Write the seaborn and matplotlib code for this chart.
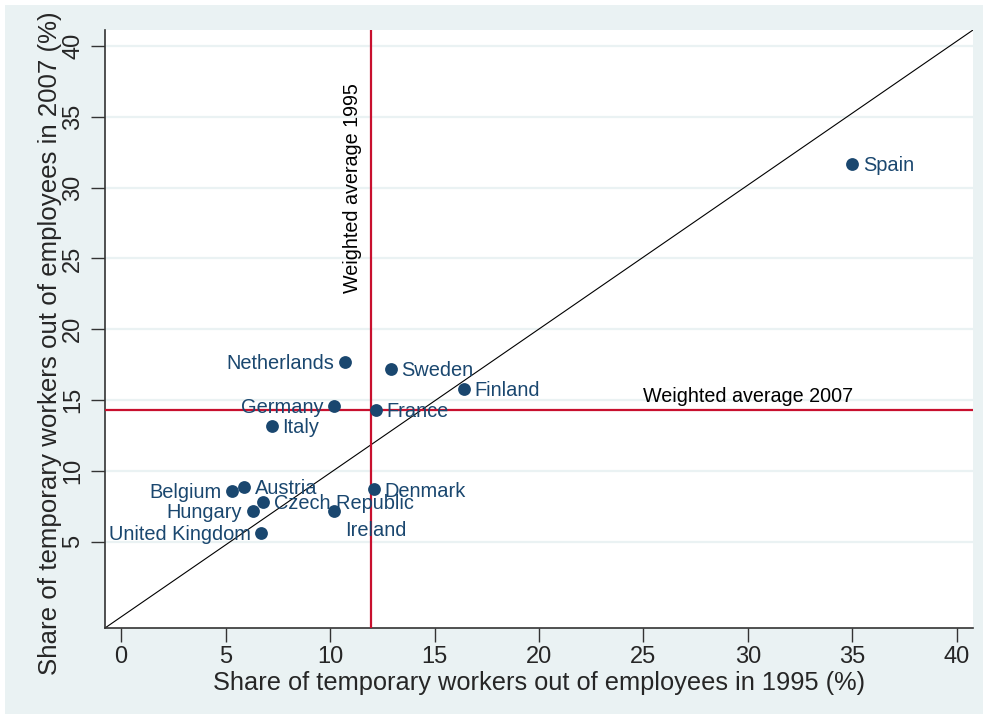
import matplotlib
matplotlib.use("Agg")
import matplotlib.pyplot as plt
import seaborn as sns
import pandas as pd
from matplotlib.patches import Rectangle

countries = ["Spain", "Netherlands", "Sweden", "Finland", "Germany", "France", "Italy",
             "Belgium", "Austria", "Denmark", "Czech Republic", "Hungary", "Ireland",
             "United Kingdom"]
share_1995 = [35.0, 10.7, 12.9, 16.4, 10.2, 12.2, 7.2, 5.3, 5.9, 12.1, 6.8, 6.3, 10.2, 6.7]
share_2007 = [31.7, 17.7, 17.2, 15.8, 14.6, 14.3, 13.2, 8.6, 8.9, 8.7, 7.8, 7.2, 7.2, 5.6]
label_side = ["right", "left", "right", "right", "left", "right", "right",
              "left", "right", "right", "right", "left", "below", "left"]
avg_1995 = 11.95
avg_2007 = 14.3
ticks = [0, 5, 10, 15, 20, 25, 30, 35, 40]

navy = "#1a476f"
red = "#c8102e"
bg = "#eaf2f3"

df = pd.DataFrame({"country": countries, "y1995": share_1995, "y2007": share_2007,
                   "side": label_side})

sns.set_style("white")
plt.rcParams["font.family"] = ["Liberation Sans", "DejaVu Sans"]

fig = plt.figure(figsize=(9.87, 7.23), dpi=100, facecolor="white")
fig.patches.append(Rectangle((5 / 987, 1 - 714 / 723), 978 / 987, 709 / 723,
                             transform=fig.transFigure, facecolor=bg,
                             edgecolor="none", zorder=-10))
ax = fig.add_axes([105 / 987, 1 - 628 / 723, 868 / 987, 598 / 723])
ax.set_facecolor("white")

# gridlines
for t in ticks[1:]:
    ax.axhline(t, color=bg, lw=1.6, zorder=1)

# diagonal drawn corner to corner of the plot region
ax.plot([0, 1], [0, 1], transform=ax.transAxes, color="black", lw=0.8, zorder=2)
ax.axvline(avg_1995, color=red, lw=1.6, zorder=3)
ax.axhline(avg_2007, color=red, lw=1.6, zorder=3)

sns.scatterplot(data=df, x="y1995", y="y2007", color=navy, s=85, linewidth=0,
                zorder=5, ax=ax)

offsets = {"right": (7.5, -1.2, "left"), "left": (-7.5, -1.2, "right"),
           "below": (7.5, -14, "left")}
for _, r in df.iterrows():
    dx, dy, ha = offsets[r["side"]]
    ax.annotate(r["country"], (r["y1995"], r["y2007"]), xytext=(dx, dy),
                textcoords="offset points", ha=ha, va="center",
                color=navy, fontsize=14.4, zorder=6)

ax.text(25, avg_2007 + 0.25, "Weighted average 2007", ha="left", va="bottom",
        fontsize=14.2, color="black", zorder=6)
ax.text(avg_1995 - 0.4, 30, "Weighted average 1995", ha="right", va="center",
        rotation=90, fontsize=14.2, color="black", zorder=6)

ax.set_xlim(-0.77, 40.77)
ax.set_ylim(-1.09, 41.13)
ax.set_xticks(ticks)
ax.set_yticks(ticks[1:])
ax.tick_params(axis="both", direction="out", length=10, width=1, color="#333333",
               labelsize=17, left=True, bottom=True)
ax.tick_params(axis="x", pad=3)
ax.tick_params(axis="y", pad=5)
plt.setp(ax.get_yticklabels(), rotation=90, va="center")

for s in ["top", "right"]:
    ax.spines[s].set_visible(False)
for s in ["left", "bottom"]:
    ax.spines[s].set_color("#333333")
    ax.spines[s].set_linewidth(1.2)

ax.set_xlabel("Share of temporary workers out of employees in 1995 (%)", fontsize=18.3)
ax.set_ylabel("Share of temporary workers out of employees in 2007 (%)", fontsize=18.6)
ax.xaxis.set_label_coords(0.5, -0.072)
ax.yaxis.set_label_coords(-0.049, 0.477)

fig.savefig("out.png", dpi=100, facecolor="white")
